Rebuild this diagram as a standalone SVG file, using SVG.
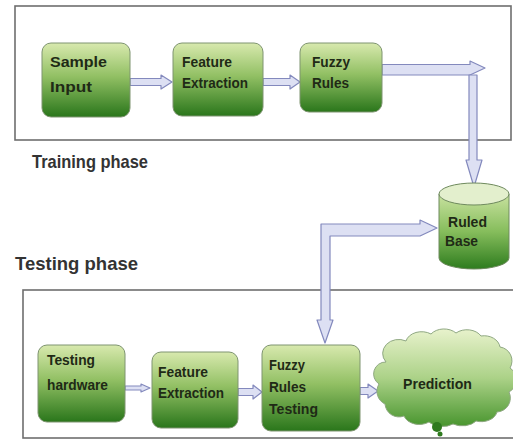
<svg xmlns="http://www.w3.org/2000/svg" width="513" height="442" viewBox="0 0 513 442">
  <defs>
    <linearGradient id="boxFill" x1="0" y1="0" x2="0" y2="1">
      <stop offset="0" stop-color="#d8e9ae"/>
      <stop offset="0.45" stop-color="#92c064"/>
      <stop offset="1" stop-color="#2a761b"/>
    </linearGradient>
    <linearGradient id="cloudFill" x1="0" y1="0" x2="0" y2="1">
      <stop offset="0" stop-color="#e8f2cc"/>
      <stop offset="0.5" stop-color="#acd288"/>
      <stop offset="1" stop-color="#48952e"/>
    </linearGradient>
    <linearGradient id="cylFill" x1="0" y1="0" x2="0" y2="1">
      <stop offset="0" stop-color="#c9e2a0"/>
      <stop offset="0.5" stop-color="#86bd5c"/>
      <stop offset="1" stop-color="#2e7c1e"/>
    </linearGradient>
    <style>
      .frame { fill: #ffffff; stroke: #6e6e6e; stroke-width: 1.6; }
      .box { fill: url(#boxFill); stroke: #7e9470; stroke-width: 1; }
      .lbl { font-family: "Liberation Sans", Arial, sans-serif; font-weight: bold; font-size: 14px; fill: #1f2a16; }
      .phase { font-family: "Liberation Sans", Arial, sans-serif; font-weight: bold; font-size: 19px; fill: #333333; }
      .arrow { fill: #dde0f3; stroke: #8389bd; stroke-width: 1.2; stroke-linejoin: round; }
    </style>
  </defs>

  <!-- phase frames -->
  <rect class="frame" x="15" y="6" width="496" height="134"/>
  <rect class="frame" x="23" y="290" width="500" height="148"/>
  <text class="phase" x="32" y="168" textLength="116" lengthAdjust="spacingAndGlyphs">Training phase</text>
  <text class="phase" x="15" y="270" textLength="123" lengthAdjust="spacingAndGlyphs">Testing phase</text>

  <!-- connectors -->
  <g id="connectors">
    <polygon class="arrow" points="130,78.5 161,78.5 161,75 172,82 161,89 161,85.5 130,85.5"/>
    <polygon class="arrow" points="263,78.5 290,78.5 290,75 300,82 290,89 290,85.5 263,85.5"/>
    <polygon class="arrow" points="382,64.5 470,64.5 470,61 485,68 470,75 382,75"/>
    <polygon class="arrow" points="469,75 477,75 477,160 482,160 474,187 466,160 469,160"/>
    <polygon class="arrow" points="321,224 420,224 420,220 437,228 420,236 330,236 330,320 333,320 325,343 317,320 321,320"/>
    <polygon class="arrow" points="125,386 141,386 141,384 150,388 141,392 141,390 125,390"/>
    <polygon class="arrow" points="238,388.5 253,388.5 253,385 262,392 253,399 253,395.5 238,395.5"/>
    <polygon class="arrow" points="360,387.5 368,387.5 368,384 378,391 368,398 368,394.5 360,394.5"/>
  </g>

  <!-- training phase nodes -->
  <g id="sample-input">
    <rect class="box" x="42" y="43" width="88" height="74" rx="9"/>
    <text class="lbl" x="50" y="67" font-size="17" textLength="57" lengthAdjust="spacingAndGlyphs">Sample</text>
    <text class="lbl" x="50" y="92" font-size="17" textLength="42" lengthAdjust="spacingAndGlyphs">Input</text>
  </g>
  <g id="feature-extraction-train">
    <rect class="box" x="173" y="43" width="90" height="73" rx="9"/>
    <text class="lbl" x="182" y="67" textLength="50" lengthAdjust="spacingAndGlyphs">Feature</text>
    <text class="lbl" x="182" y="88" textLength="66" lengthAdjust="spacingAndGlyphs">Extraction</text>
  </g>
  <g id="fuzzy-rules">
    <rect class="box" x="300" y="43" width="82" height="69" rx="9"/>
    <text class="lbl" x="312" y="67" textLength="38" lengthAdjust="spacingAndGlyphs">Fuzzy</text>
    <text class="lbl" x="312" y="88" textLength="37" lengthAdjust="spacingAndGlyphs">Rules</text>
  </g>

  <!-- rule store -->
  <g id="ruled-base">
    <path d="M439,194 L439,258 A35,11 0 0 0 509,258 L509,194 Z" fill="url(#cylFill)" stroke="#6f8a5e" stroke-width="1"/>
    <ellipse cx="474" cy="194" rx="35" ry="11" fill="#e3efcd" stroke="#6f8a5e" stroke-width="1"/>
    <text class="lbl" x="448" y="227" textLength="39" lengthAdjust="spacingAndGlyphs">Ruled</text>
    <text class="lbl" x="445" y="246" textLength="33" lengthAdjust="spacingAndGlyphs">Base</text>
  </g>

  <!-- testing phase nodes -->
  <g id="testing-hardware">
    <rect class="box" x="38" y="345" width="87" height="77" rx="9"/>
    <text class="lbl" x="47" y="365" textLength="48" lengthAdjust="spacingAndGlyphs">Testing</text>
    <text class="lbl" x="47" y="390" textLength="61" lengthAdjust="spacingAndGlyphs">hardware</text>
  </g>
  <g id="feature-extraction-test">
    <rect class="box" x="152" y="352" width="86" height="76" rx="9"/>
    <text class="lbl" x="158" y="377" textLength="50" lengthAdjust="spacingAndGlyphs">Feature</text>
    <text class="lbl" x="158" y="398" textLength="66" lengthAdjust="spacingAndGlyphs">Extraction</text>
  </g>
  <g id="fuzzy-rules-testing">
    <rect class="box" x="262" y="345" width="98" height="86" rx="9"/>
    <text class="lbl" x="269" y="370" textLength="36" lengthAdjust="spacingAndGlyphs">Fuzzy</text>
    <text class="lbl" x="269" y="392" textLength="37" lengthAdjust="spacingAndGlyphs">Rules</text>
    <text class="lbl" x="269" y="414" textLength="49" lengthAdjust="spacingAndGlyphs">Testing</text>
  </g>
  <g id="prediction">
    <path d="M386,362 A16,14 0 0 1 406,341 A16,12 0 0 1 431,334 A16,12 0 0 1 456,333 A16,12 0 0 1 481,336 A16,13 0 0 1 500,347 A14,14 0 0 1 510,368 A14,14 0 0 1 509,392 A14,14 0 0 1 497,412 A16,12 0 0 1 476,421 A16,10 0 0 1 453,424 A16,10 0 0 1 429,422 A16,12 0 0 1 404,416 A14,14 0 0 1 385,404 A14,14 0 0 1 379,384 A12,12 0 0 1 386,362 Z" fill="url(#cloudFill)" stroke="#8fa882" stroke-width="1"/>
    <circle cx="437" cy="427" r="5" fill="#2f7a1e"/>
    <circle cx="440" cy="434" r="2.5" fill="#2f7a1e"/>
    <text class="lbl" x="403" y="389" textLength="69" lengthAdjust="spacingAndGlyphs">Prediction</text>
  </g>
</svg>
